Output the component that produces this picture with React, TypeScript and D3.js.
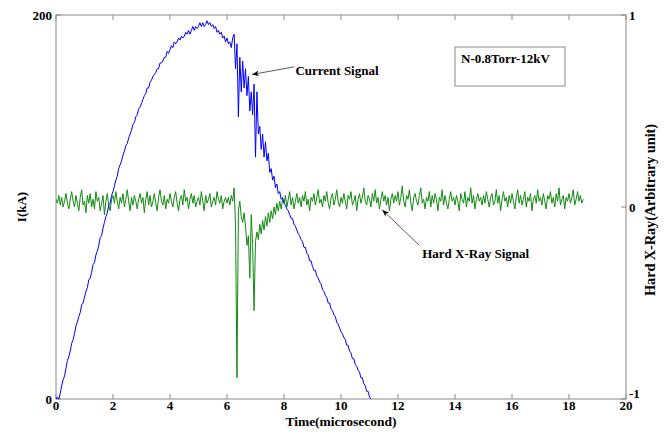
import React from "react";
import * as d3 from "d3";

// Time axis ticks (microsecond)
const xTicks = [0, 2, 4, 6, 8, 10, 12, 14, 16, 18, 20];
const leftTicks = [0, 200];
const rightTicks = [-1, 0, 1];

// Current signal I(kA), sampled every 0.05 microsecond from t = 0
const currentStep = 0.05;
const currentKA = [
  0, 1, 0, 3, 7, 10, 12, 16, 20, 22, 25, 29, 31, 34, 38, 40, 43, 45, 49, 50,
  53, 56, 58, 62, 63, 66, 70, 71, 75, 77, 80, 84, 85, 89, 92, 95, 97, 101, 102, 106,
  108, 111, 114, 116, 120, 122, 124, 127, 129, 132, 133, 136, 138, 140, 143, 144, 147, 148, 151, 152,
  154, 156, 158, 159, 162, 162, 165, 166, 168, 169, 170, 172, 172, 175, 175, 176, 178, 178, 181, 180,
  182, 184, 183, 186, 185, 186, 188, 187, 189, 188, 189, 191, 190, 192, 190, 192, 194, 192, 194, 193,
  194, 196, 194, 196, 194, 195, 197, 195, 196, 194, 195, 193, 194, 191, 192, 190, 191, 188, 189, 186,
  188, 185, 186, 183, 188, 190, 172, 185, 147, 178, 160, 176, 162, 172, 158, 168, 150, 160, 148, 164,
  126, 160, 138, 142, 130, 138, 126, 134, 124, 128, 118, 120, 114, 116, 110, 112, 107, 108, 104, 105,
  102, 101, 99, 98, 96, 94, 94, 91, 90, 88, 86, 85, 83, 82, 79, 79, 76, 75, 72, 72,
  69, 67, 67, 64, 63, 61, 60, 57, 56, 54, 53, 50, 50, 47, 46, 44, 43, 40, 39, 37,
  35, 34, 32, 31, 28, 28, 25, 24, 21, 21, 18, 17, 15, 14, 11, 11, 8, 7, 4, 4,
  1, 0, -1,
];

// Hard X-Ray signal (arbitrary unit, in hundredths), sampled every 0.05 microsecond from t = 0
const xrayStep = 0.05;
const xrayHundredths = [
  4, 2, 6, 1, 5, 0, 3, 7, 2, -1, 4, 8, 3, 0, 6, 2, -2, 5, 9, 1,
  3, -3, 6, 2, 7, 0, 4, -1, 8, 3, 5, -2, 2, 6, -4, 3, 7, 1, -2, 4,
  6, 2, 8, 3, -1, 5, 2, 7, 0, 4, 9, 3, -2, 5, 1, 6, 3, -1, 4, 7,
  2, 5, -3, 4, 8, 1, 6, 0, 3, 7, 2, -2, 5, 9, 3, 1, 6, -1, 4, 2,
  7, 3, 0, 5, 8, 2, -2, 4, 6, 1, 9, 3, 5, -1, 4, 7, 2, 6, 0, 3,
  5, 1, 8, 3, -2, 6, 2, 4, 7, 0, 3, 5, 1, 8, 4, 2, 6, -1, 3, 5,
  2, 5, 1, 6, 3, 10, -10, -89, -2, 3, -5, -8, -3, -10, -20, -15, -37, -4, -20, -54,
  -18, -13, -17, -9, -14, -7, -12, -5, -10, -3, -8, -2, -6, 0, -4, 2, -2, 3, -1, 4,
  2, 6, 0, 4, 8, 1, 5, -1, 3, 7, 2, 5, 0, 6, 3, 8, 1, 4, -2, 5,
  3, 7, 1, 5, 9, 2, 4, 0, 6, 3, 8, 2, -1, 5, 7, 1, 4, 9, 3, 0,
  5, 2, 7, 3, -1, 6, 4, 8, 1, 3, 6, -2, 4, 7, 2, 5, 10, 3, 1, 6,
  4, 0, 7, 3, 9, 2, 5, -1, 4, 8, 3, 6, 1, 5, -2, 4, 7, 2, 6, 3,
  8, 1, 5, 11, 3, 0, 6, 4, 9, 2, -2, 5, 7, 3, 1, 6, 10, 2, 4, -1,
  5, 3, 8, 0, 6, 2, 7, 4, -2, 5, 3, 9, 1, 6, 2, -1, 4, 8, 3, 5,
  1, 6, 3, -2, 7, 4, 2, 8, 0, 5, 3, 10, 2, 6, -1, 4, 7, 3, 5, 1,
  6, 2, 8, 4, 0, 5, 7, 1, 3, 9, 2, 6, -2, 4, 8, 3, 5, 0, 6, 2,
  7, 3, -1, 5, 9, 2, 6, 1, 4, 8, 0, 5, 3, 7, -2, 4, 6, 2, 9, 3,
  5, 1, 7, 3, -1, 6, 4, 8, 2, 5, 0, 7, 3, 10, 1, 4, 6, -1, 5, 3,
  7, 2, 5, 9, 1, 4, 8, 3, 6, 2, 4,
];

const legendText = "N-0.8Torr-12kV";

const W = 669;
const H = 435;
const L = 56, R = 626, T = 15, B = 399;
const FONT = "'Liberation Serif', 'Times New Roman', serif";
const AXIS = "#8a8a8a";

export default function App() {
  const x = d3.scaleLinear().domain([0, 20]).range([L, R]);
  const yL = d3.scaleLinear().domain([0, 200]).range([B, T]);
  const yR = d3.scaleLinear().domain([-1, 1]).range([B, T]);

  const currentPts: [number, number][] = currentKA.map((v, i) => [i * currentStep, v]);
  const xrayPts: [number, number][] = xrayHundredths.map((v, i) => [i * xrayStep, v / 100]);

  const currentLine = d3.line<[number, number]>().x(d => x(d[0])).y(d => yL(d[1]));
  const xrayLine = d3.line<[number, number]>().x(d => x(d[0])).y(d => yR(d[1]));

  const txt = { fontFamily: FONT, fontWeight: 700, fontSize: 13, fill: "#000" } as const;

  return (
    <svg width={W} height={H} style={{ position: "absolute", left: 0, top: 0, background: "#fff" }}>
      <defs>
        <clipPath id="plot">
          <rect x={L} y={T} width={R - L} height={B - T} />
        </clipPath>
        <marker id="arr" viewBox="0 0 10 10" refX="10" refY="5" markerWidth="9" markerHeight="7" orient="auto" markerUnits="userSpaceOnUse">
          <path d="M0,1 L10,5 L0,9 L3,5 Z" fill="#000" />
        </marker>
      </defs>
      <rect x={0} y={0} width={W} height={H} fill="#fff" />

      {/* frame */}
      <rect x={L} y={T} width={R - L} height={B - T} fill="none" stroke={AXIS} strokeWidth={1} />

      {/* x ticks bottom and top */}
      {xTicks.map(t => (
        <g key={"xt" + t}>
          <line x1={x(t)} x2={x(t)} y1={B} y2={B - 5} stroke={AXIS} />
          <line x1={x(t)} x2={x(t)} y1={T} y2={T + 5} stroke={AXIS} />
          <text x={x(t)} y={B + 11} textAnchor="middle" {...txt}>{t}</text>
        </g>
      ))}

      {/* left ticks */}
      {leftTicks.map(t => (
        <g key={"lt" + t}>
          <line x1={L} x2={L + 5} y1={yL(t)} y2={yL(t)} stroke={AXIS} />
          <text x={L - 4} y={yL(t) + 4.5} textAnchor="end" {...txt}>{t}</text>
        </g>
      ))}

      {/* right ticks */}
      {rightTicks.map(t => (
        <g key={"rt" + t}>
          <line x1={R} x2={R - 5} y1={yR(t)} y2={yR(t)} stroke={AXIS} />
          <text x={R + 3} y={yR(t) + (t === -1 ? -1 : 4.5)} textAnchor="start" {...txt}>{t}</text>
        </g>
      ))}

      {/* series */}
      <g clipPath="url(#plot)">
        <path d={xrayLine(xrayPts) || ""} fill="none" stroke="#118a11" strokeWidth={1} />
        <path d={currentLine(currentPts) || ""} fill="none" stroke="#0000ff" strokeWidth={1} />
      </g>

      {/* axis labels */}
      <text x={341} y={426} textAnchor="middle" {...txt} fontSize={13.5}>Time(microsecond)</text>
      <text transform={`translate(26,${(T + B) / 2}) rotate(-90)`} textAnchor="middle" {...txt}>I(kA)</text>
      <text transform={`translate(655,210) rotate(-90)`} textAnchor="middle" {...txt} fontSize={14.5} textLength={172} lengthAdjust="spacing">Hard X-Ray(Arbitrary unit)</text>

      {/* legend box */}
      <rect x={455} y={47} width={110} height={39} fill="#fff" stroke={AXIS} strokeWidth={1} />
      <text x={461} y={63} {...txt}>{legendText}</text>

      {/* annotations */}
      <line x1={x(8.35)} y1={yL(173)} x2={x(6.88)} y2={yL(169)} stroke="#333" strokeWidth={0.8} markerEnd="url(#arr)" />
      <text x={x(8.4)} y={yL(169)} {...txt}>Current Signal</text>
      <line x1={x(12.75)} y1={yR(-0.2)} x2={x(11.45)} y2={yR(-0.015)} stroke="#333" strokeWidth={0.8} markerEnd="url(#arr)" />
      <text x={x(12.85)} y={yR(-0.265)} {...txt}>Hard X-Ray Signal</text>
    </svg>
  );
}
